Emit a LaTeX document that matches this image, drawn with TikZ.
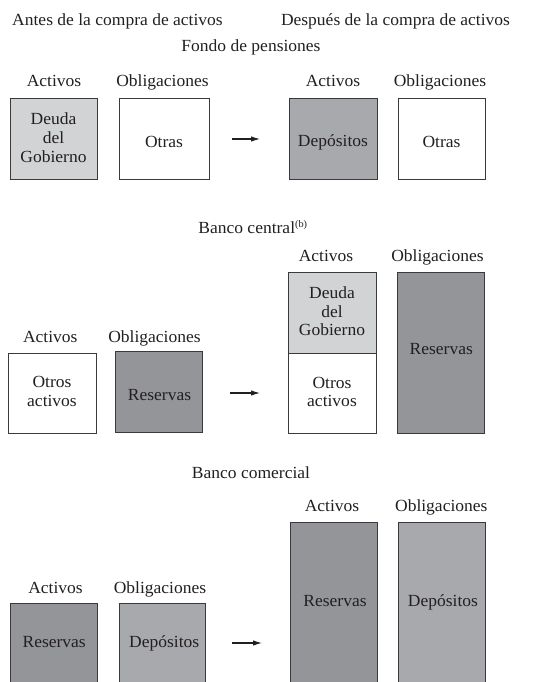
\documentclass[tikz,border=0pt]{standalone}
\usepackage{fontspec}
\setmainfont{Liberation Serif}[FakeStretch=1.03]
\usetikzlibrary{arrows.meta}
\definecolor{txtc}{HTML}{231F20}
\definecolor{boxc}{HTML}{3A3A3C}
\definecolor{lightg}{HTML}{D1D3D4}
\definecolor{medg}{HTML}{A7A9AC}
\definecolor{darkg}{HTML}{939598}
\begin{document}
\begin{tikzpicture}[x=1pt,y=-1pt,
  bx/.style={draw=boxc, line width=0.9pt, inner sep=0pt, outer sep=0pt, anchor=north west},
  txt/.style={inner sep=0pt, anchor=base, text=txtc, font=\fontsize{17}{18.8}\selectfont},
  mtxt/.style={inner sep=0pt, anchor=center, align=center, text=txtc, font=\fontsize{17}{18.8}\selectfont},
  arr/.style={draw=txtc, line width=1.1pt, -{Latex[length=9pt,width=5.5pt]}}]
\useasboundingbox (0,0) rectangle (540,682);
\clip (0,0) rectangle (540,682);
% headers
\node[txt] (hbefore) at (117.5,26) {Antes de la compra de activos};
\node[txt] (hafter) at (395.5,26) {Después de la compra de activos};
% ---------- Fondo de pensiones ----------
\node[txt] (t1) at (251,52) {Fondo de pensiones};
\node[txt] (l1a) at (54,87) {Activos};
\node[txt] (l1b) at (162.5,87) {Obligaciones};
\node[txt] (l1c) at (333,87) {Activos};
\node[txt] (l1d) at (440,87) {Obligaciones};
\node[bx, fill=lightg, minimum width=87pt, minimum height=81pt] (A1) at (10,98) {};
\node[bx, fill=white, minimum width=90pt, minimum height=81pt] (L1) at (119,98) {};
\node[bx, fill=medg, minimum width=88pt, minimum height=81pt] (A1n) at (289,98) {};
\node[bx, fill=white, minimum width=87pt, minimum height=81pt] (L1n) at (398,98) {};
\node[mtxt] (A1t) at (53.5,137.4) {Deuda\\del\\Gobierno};
\node[txt] (L1t) at (164,147) {Otras};
\node[txt] (A1nt) at (333,146.7) {Depósitos};
\node[txt] (L1nt) at (441.5,147) {Otras};
\coordinate (ar1s) at (232,139);
\coordinate (ar1e) at (260,139);
\draw[arr] (ar1s) -- (ar1e);
% ---------- Banco central ----------
\node[txt] (t2) at (253,233.3) {Banco central\textsuperscript{\fontsize{10}{11}\selectfont(b)}};
\node[txt] (l2c) at (326,261.7) {Activos};
\node[txt] (l2d) at (437.5,261.7) {Obligaciones};
\node[txt] (l2a) at (50.3,342.7) {Activos};
\node[txt] (l2b) at (154.5,342.7) {Obligaciones};
\node[bx, fill=white, minimum width=88pt, minimum height=80pt] (CBa) at (8,353) {};
\node[bx, fill=darkg, minimum width=87pt, minimum height=81pt] (CBl) at (115,351) {};
\node[bx, fill=lightg, minimum width=88pt, minimum height=81pt] (CBat) at (288,272) {};
\node[bx, fill=white, minimum width=88pt, minimum height=80pt] (CBab) at (288,353) {};
\node[bx, fill=darkg, minimum width=87pt, minimum height=161pt] (CBln) at (397,272) {};
\node[mtxt] (CBat_t) at (332,311.2) {Deuda\\del\\Gobierno};
\node[mtxt] (CBab_t) at (332,392) {Otros\\activos};
\node[mtxt] (CBa_t) at (52,391.7) {Otros\\activos};
\node[txt] (CBl_t) at (159.5,400) {Reservas};
\node[txt] (CBln_t) at (441.3,354.3) {Reservas};
\coordinate (ar2s) at (230,393);
\coordinate (ar2e) at (260,393);
\draw[arr] (ar2s) -- (ar2e);
% ---------- Banco comercial ----------
\node[txt] (t3) at (251,478.3) {Banco comercial};
\node[txt] (l3c) at (332,511) {Activos};
\node[txt] (l3d) at (441.3,511) {Obligaciones};
\node[txt] (l3a) at (55.5,593.3) {Activos};
\node[txt] (l3b) at (160,593.3) {Obligaciones};
\node[bx, fill=darkg, minimum width=87pt, minimum height=84pt] (CMa) at (10,603) {};
\node[bx, fill=medg, minimum width=86pt, minimum height=84pt] (CMl) at (119,603) {};
\node[bx, fill=darkg, minimum width=87pt, minimum height=165pt] (CMan) at (290,522) {};
\node[bx, fill=medg, minimum width=87pt, minimum height=165pt] (CMln) at (398,522) {};
\node[txt] (CMa_t) at (54.2,647.7) {Reservas};
\node[txt] (CMl_t) at (164.2,647.7) {Depósitos};
\node[txt] (CMan_t) at (335,606) {Reservas};
\node[txt] (CMln_t) at (443,606) {Depósitos};
\coordinate (ar3s) at (232,643);
\coordinate (ar3e) at (262,643);
\draw[arr] (ar3s) -- (ar3e);
\end{tikzpicture}
\end{document}
